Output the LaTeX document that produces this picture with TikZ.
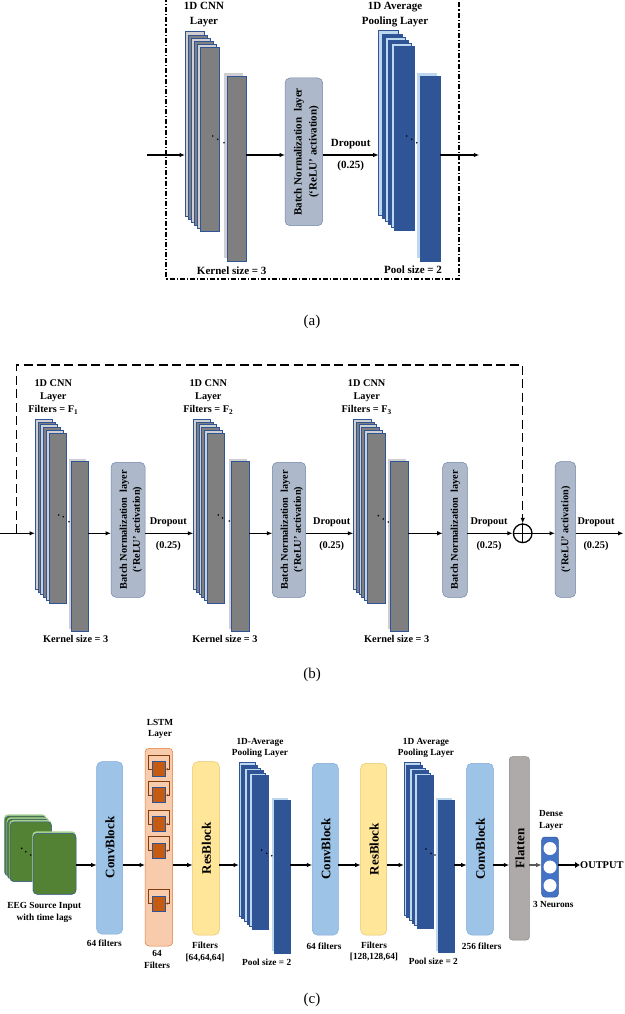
\documentclass[tikz,border=0pt]{standalone}
\usepackage{fontspec}
\setmainfont{Liberation Serif}
\usetikzlibrary{arrows.meta}
\definecolor{gL}{HTML}{D0CECE}
\definecolor{gD}{HTML}{7F7F7F}
\definecolor{bL}{HTML}{BDD7EE}
\definecolor{bD}{HTML}{2F5597}
\definecolor{edgeB}{HTML}{2F5597}
\definecolor{bnF}{HTML}{ADB9CA}
\definecolor{bnE}{HTML}{6F86A8}
\definecolor{convF}{HTML}{9DC3E6}
\definecolor{convE}{HTML}{7FAADB}
\definecolor{resF}{HTML}{FFE699}
\definecolor{resE}{HTML}{E2C66A}
\definecolor{lstmF}{HTML}{F8CBAD}
\definecolor{lstmE}{HTML}{E07A38}
\definecolor{cellF}{HTML}{C55A11}
\definecolor{loopC}{HTML}{843C0C}
\definecolor{flatF}{HTML}{AEAAAA}
\definecolor{flatE}{HTML}{8C8888}
\definecolor{denseF}{HTML}{4472C4}
\definecolor{grnD}{HTML}{548235}
\definecolor{grnL}{HTML}{A9D18E}
\tikzset{
 arr/.style={line width=1.3pt, -{Latex[length=5.5pt,width=4.5pt]}},
 lblA/.style={font=\bfseries\fontsize{11}{15}\selectfont, align=center, inner sep=0},
 lblB/.style={font=\bfseries\fontsize{10.3}{13}\selectfont, align=center, inner sep=0},
 lblC/.style={font=\bfseries\fontsize{9.3}{11.6}\selectfont, align=center, inner sep=0},
 bigtxt/.style={font=\bfseries\fontsize{13}{15}\selectfont, rotate=90, inner sep=0},
 captxt/.style={font=\fontsize{15}{17}\selectfont, inner sep=0},
 box/.style={inner sep=0, outer sep=0, line width=0.5pt},
 bnbox/.style={box, rounded corners=5pt, fill=bnF, draw=bnE},
 convbox/.style={box, rounded corners=5pt, fill=convF, draw=convE},
 resbox/.style={box, rounded corners=5pt, fill=resF, draw=resE},
 grn/.style={box, rounded corners=4pt, anchor=north west, minimum width=42.3pt, minimum height=61.7pt},
}
\newcommand\layerstack[9]{%
  \node[box, anchor=north west, minimum width=#4pt, minimum height=#5pt, fill=#9L, draw=edgeB] (#1-in) at (#2,#3) {};
  \foreach \i/\c in {1/D,2/L,3/D,4/L,5/D}{%
    \filldraw[box, fill=#9\c, draw=edgeB] ({#2+\stp*\i},{#3+\stp*\i}) rectangle ++(#4,#5);
  }
  \fill[#9L] ({#6-\bk},{#7-\bk}) rectangle ++(#4,#8);
  \node[box, anchor=north west, minimum width=#4pt, minimum height=#8pt, fill=#9D, draw=edgeB] (#1-out) at (#6,#7) {};
}
\newcommand\threedots[6]{\fill (#1,#2) circle[radius=0.9pt] (#3,#4) circle[radius=0.9pt] (#5,#6) circle[radius=0.9pt];}
\newcommand\lstmcell[2]{%
  \node[box, anchor=north west, minimum width=13.4pt, minimum height=15pt, fill=cellF, draw=edgeB] (#1) at (152.3,#2) {};
  \draw[loopC, line width=0.8pt, -{Latex[length=2.5pt,width=2.5pt]}] (#1.west) -| ([xshift=-4pt,yshift=6.5pt]#1.north west) -| ([xshift=3.6pt]#1.east) -- (#1.east);
}
\begin{document}
\begin{tikzpicture}[x=1pt,y=-1pt]
\useasboundingbox (0,0) rectangle (624,1014);
\fill[white] (0,0) rectangle (624,1014);
% ================= (a) =================
\draw[line width=1.2pt, dash pattern=on 5pt off 2pt on 1.2pt off 2pt] (166,-3) -- (166,279) -- (459,279) -- (459,-3);
\def\stp{3.1}\def\bk{3.3}
\layerstack{a1}{185}{31.7}{19}{184.3}{227.3}{76}{185}{g}
\threedots{212.7}{136}{217.7}{139.3}{224}{142.7}
\node[bnbox, minimum width=37.7pt, minimum height=147.7pt] (bnA) at (303.85,151.85) {};
\node[lblA, rotate=90] (bnAt) at (306.5,151.85) {Batch Normalization\ \ layer\\(‘ReLU’ activation)};
\layerstack{a2}{378.7}{30.7}{20}{184.4}{420}{76}{185.7}{b}
\threedots{406.7}{136}{411.7}{139.3}{416.7}{142.7}
\coordinate (aIn) at (147,155);
\coordinate (aOut) at (479.3,155);
\draw[arr] (aIn) -- (a1-in.west |- aIn);
\draw[arr] (a1-out.east |- aIn) -- (bnA.west |- aIn);
\draw[arr] (bnA.east |- aIn) -- (a2-in.west |- aIn);
\draw[arr] (a2-out.east |- aIn) -- (aOut);
\node[lblA] (a1lab) at (204,14.2) {1D CNN\\Layer};
\node[lblA] (a2lab) at (395,14.2) {1D Average\\Pooling Layer};
\node[lblA] (a1ker) at (231.7,270.7) {Kernel size = 3};
\node[lblA] (a2pool) at (413,269.3) {Pool size = 2};
\node[lblA] (aDrop) at (350.7,144) {Dropout};
\node[lblA] (aRate) at (350.7,166) {(0.25)};
\node[captxt] (capA) at (312,322) {(a)};
% ================= (b) =================
\def\stp{2.8}\def\bk{2.5}
\layerstack{b1}{35}{419}{17}{170}{71}{461}{170}{g}
\layerstack{b2}{193.3}{419}{17.4}{170}{231.7}{461}{170}{g}
\layerstack{b3}{353.3}{419}{17.7}{170}{390.7}{461}{170}{g}
\threedots{58.7}{515}{63.3}{516.7}{69}{521.7}
\threedots{218.3}{515}{222.5}{518}{229.3}{521}
\threedots{378.3}{515.7}{383.3}{519}{388.3}{522}
\node[bnbox, minimum width=34pt, minimum height=135pt] (bnB1) at (128,529.8) {};
\node[lblB, rotate=90] (bnB1t) at (131,529.8) {Batch Normalization\ \ layer\\(‘ReLU’ activation)};
\node[bnbox, minimum width=33.4pt, minimum height=135pt] (bnB2) at (289,529.8) {};
\node[lblB, rotate=90] (bnB2t) at (292,529.8) {Batch Normalization\ \ layer\\(‘ReLU’ activation)};
\node[bnbox, minimum width=24.6pt, minimum height=135pt] (bnB3) at (455,529.8) {};
\node[lblB, rotate=90] (bnB3t) at (455.5,529.8) {Batch Normalization\ \ layer};
\node[bnbox, minimum width=20.7pt, minimum height=135.6pt] (relu) at (565.35,529.5) {};
\node[lblB, rotate=90] (relut) at (565.8,529.5) {(‘ReLU’ activation)};
\node[circle, draw, line width=1.3pt, minimum size=18.6pt, inner sep=0] (add) at (522.7,533.3) {};
\draw[line width=1.3pt] (add.north) -- (add.south) (add.west) -- (add.east);
\coordinate (bIn) at (0,533.3);
\coordinate (skipS) at (16.7,533.3);
\coordinate (bOut) at (623.5,533.3);
\draw[line width=1.5pt, dash pattern=on 9pt off 4.5pt, -{Latex[length=5.5pt,width=4.5pt]}] (skipS) -- (16.7,365) -| (add.north);
\draw[arr] (bIn) -- (b1-in.west |- bIn);
\draw[arr] (b1-out.east |- bIn) -- (bnB1.west |- bIn);
\draw[arr] (bnB1.east |- bIn) -- (b2-in.west |- bIn);
\draw[arr] (b2-out.east |- bIn) -- (bnB2.west |- bIn);
\draw[arr] (bnB2.east |- bIn) -- (b3-in.west |- bIn);
\draw[arr] (b3-out.east |- bIn) -- (bnB3.west |- bIn);
\draw[arr] (bnB3.east |- bIn) -- (add.west);
\draw[arr] (add.east) -- (relu.west |- bIn);
\draw[arr] (relu.east |- bIn) -- (bOut);
\node[lblB] (b1lab) at (53.3,397.3) {1D CNN\\Layer\\Filters = F\textsubscript{1}};
\node[lblB] (b2lab) at (208.3,397.3) {1D CNN\\Layer\\Filters = F\textsubscript{2}};
\node[lblB] (b3lab) at (366.7,397.3) {1D CNN\\Layer\\Filters = F\textsubscript{3}};
\node[lblB] (b1ker) at (75.7,639.3) {Kernel size = 3};
\node[lblB] (b2ker) at (225,639.3) {Kernel size = 3};
\node[lblB] (b3ker) at (396.7,639.3) {Kernel size = 3};
\foreach \n/\x in {1/168.3,2/331.7,3/489,4/596}{
  \node[lblB] (bDrop\n) at (\x,522.7) {Dropout};
  \node[lblB] (bRate\n) at (\x,546) {(0.25)};
}
\node[captxt] (capB) at (312,675) {(b)};
% ================= (c) =================
\coordinate (cRow) at (0,865);
% EEG input
\foreach \x/\y in {4/814.3,6.7/817.3,9.3/820}{
  \fill[grnL, rounded corners=4pt] (\x,\y) rectangle ++(42.3,61.7);
  \filldraw[box, rounded corners=4pt, fill=grnD, draw=edgeB] ({\x+0.8},{\y+1.8}) rectangle ++(41.5,59.9);
}
\fill[grnL, rounded corners=4pt] (32.3,831.3) rectangle ++(43.7,63);
\node[grn, minimum width=42.7pt, minimum height=61pt, fill=grnD, draw=edgeB] (eeg) at (33.3,833.3) {};
\threedots{21.7}{848.3}{25.7}{851.7}{30.7}{855}
\node[lblC] (eegt) at (44.3,912.5) {EEG Source Input\\with time lags};
% ConvBlock 1
\node[convbox, minimum width=26pt, minimum height=172.3pt] (cb1) at (109.7,847.85) {};
\node[bigtxt] (cb1t) at (110,847.3) {ConvBlock};
\node[lblC] (cb1f) at (104.3,943.3) {64 filters};
% LSTM
\node[box, rounded corners=4pt, minimum width=27.7pt, minimum height=197.7pt, fill=lstmF, draw=lstmE] (lstm) at (158.85,847.15) {};
\lstmcell{cell1}{761.7}
\lstmcell{cell2}{787.7}
\lstmcell{cell3}{816.7}
\lstmcell{cell4}{843.3}
\lstmcell{cell5}{896}
\node[lblC] (lstmt) at (160,729) {LSTM\\Layer};
\node[lblC] (lstmf) at (157,959.7) {64\\Filters};
% ResBlock 1
\node[resbox, minimum width=26.6pt, minimum height=173.3pt] (rb1) at (206,848.35) {};
\node[bigtxt] (rb1t) at (206.5,848.3) {ResBlock};
\node[lblC] (rb1f) at (205,952.2) {Filters\\{[64,64,64]}};
% Pool 1
\def\stp{2.6}\def\bk{2.2}
\layerstack{c1}{239}{762.7}{16}{153.3}{274}{800}{153.3}{b}
\threedots{261.7}{850}{266.7}{853.3}{271.7}{855.7}
\node[lblC] (c1lab) at (260,748) {1D-Average\\Pooling Layer};
\node[lblC] (c1pool) at (266.7,962.7) {Pool size = 2};
% ConvBlock 2
\node[convbox, minimum width=26pt, minimum height=171.7pt] (cb2) at (325.3,849.15) {};
\node[bigtxt] (cb2t) at (325.8,849) {ConvBlock};
\node[lblC] (cb2f) at (324,946.7) {64 filters};
% ResBlock 2
\node[resbox, minimum width=26pt, minimum height=171.7pt] (rb2) at (373.7,849.15) {};
\node[bigtxt] (rb2t) at (374.2,849) {ResBlock};
\node[lblC] (rb2f) at (374,951.3) {Filters\\{[128,128,64]}};
% Pool 2
\layerstack{c2}{404}{762.7}{16}{152.3}{438.3}{800}{152.7}{b}
\threedots{426}{849}{431}{853.3}{435}{855}
\node[lblC] (c2lab) at (426,748) {1D Average\\Pooling Layer};
\node[lblC] (c2pool) at (433.3,961.7) {Pool size = 2};
% ConvBlock 3
\node[convbox, minimum width=26.6pt, minimum height=171.7pt] (cb3) at (480,849.15) {};
\node[bigtxt] (cb3t) at (480.5,849) {ConvBlock};
\node[lblC] (cb3f) at (481.7,946.7) {256 filters};
% Flatten
\node[box, rounded corners=3pt, minimum width=20pt, minimum height=183.3pt, fill=flatF, draw=flatE] (flat) at (519.3,848.35) {};
\node[bigtxt] (flatt) at (519.8,848.3) {Flatten};
% Dense
\node[box, rounded corners=3pt, minimum width=16.6pt, minimum height=60pt, fill=denseF, draw=edgeB] (dense) at (550,867) {};
\foreach \k/\y in {1/848.5,2/867,3/885.5}{
  \node[circle, fill=white, minimum size=13pt, inner sep=0] (neu\k) at (550,\y) {};
}
\node[lblC] (denset) at (551,820.5) {Dense\\Layer};
\node[lblC] (denseN) at (553.3,904.3) {3 Neurons};
\node[font=\bfseries\fontsize{10.4}{12}\selectfont, anchor=west, inner sep=0] (outT) at (580,865.5) {OUTPUT};
% arrows (c)
\draw[arr] (eeg.east |- cRow) -- (cb1.west |- cRow);
\draw[arr] (cb1.east |- cRow) -- (lstm.west |- cRow);
\draw[arr] (lstm.east |- cRow) -- (rb1.west |- cRow);
\draw[arr] (rb1.east |- cRow) -- (c1-in.west |- cRow);
\draw[arr] (c1-out.east |- cRow) -- (cb2.west |- cRow);
\draw[arr] (cb2.east |- cRow) -- (rb2.west |- cRow);
\draw[arr] (rb2.east |- cRow) -- (c2-in.west |- cRow);
\draw[arr] (c2-out.east |- cRow) -- (cb3.west |- cRow);
\draw[arr] (cb3.east |- cRow) -- (flat.west |- cRow);
\draw[arr, black!65] (flat.east |- cRow) -- (dense.west |- cRow);
\draw[line width=2.6pt, -{Latex[length=5pt,width=6.5pt]}] (dense.east |- cRow) -- (outT.west |- cRow);
\node[captxt] (capC) at (312,1000) {(c)};
\end{tikzpicture}
\end{document}
